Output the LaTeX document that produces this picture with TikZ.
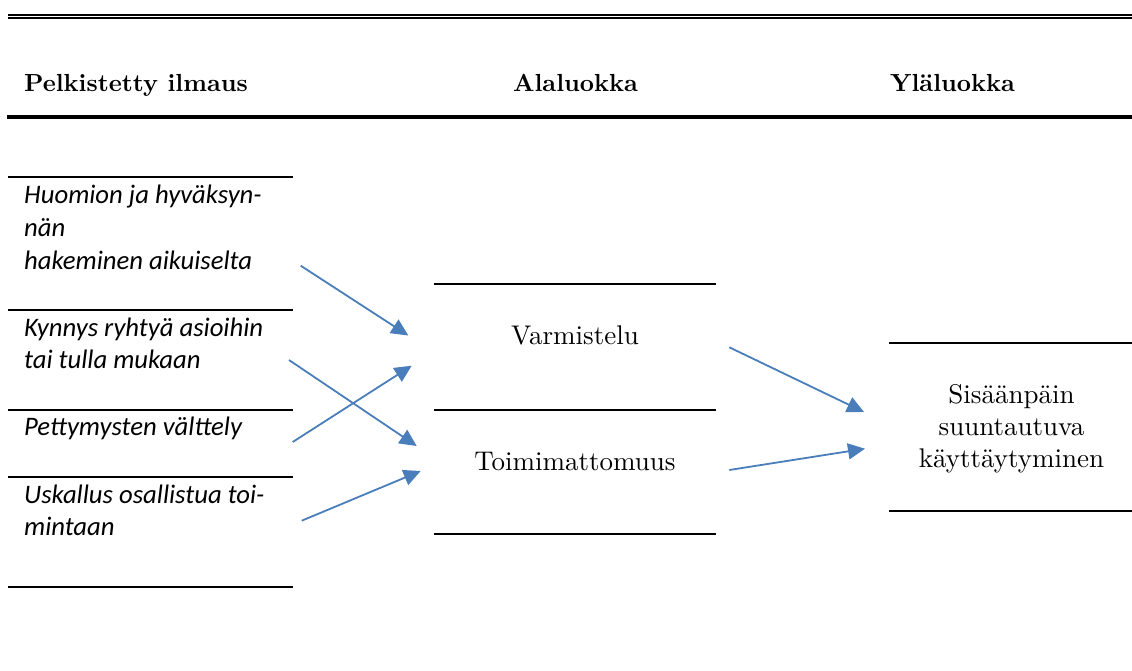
\documentclass[tikz,border=0pt]{standalone}
\usepackage{fontspec}
\newfontfamily\cali{Carlito}
\newfontfamily\romfont{lmroman10-regular}[Extension=.otf, BoldFont=lmroman10-bold]
\usetikzlibrary{arrows.meta}
\definecolor{arrowblue}{HTML}{4A7EBB}
\tikzset{
  rule/.style={line width=1.6pt},
  head/.style={font=\romfont\bfseries\fontsize{24.7}{28}\selectfont, inner sep=0pt, anchor=base},
  item/.style={font=\cali\itshape\fontsize{26.7}{32}\selectfont, inner sep=0pt, anchor=base west},
  cat/.style={font=\romfont\fontsize{27}{32}\selectfont, inner sep=0pt, anchor=base},
  link/.style={draw=arrowblue, line width=1.8pt, -{Triangle[length=17pt,width=16pt]}}
}
\begin{document}
\begin{tikzpicture}[x=1pt,y=-1pt]
\useasboundingbox (0,0) rectangle (1132,671);

% table frame
\draw[line width=2pt] (8,15) -- (1132,15);
\draw[line width=2pt] (8,18.4) -- (1132,18.4);
\draw[line width=3.5pt] (7,116.8) -- (1132,116.8);

% column headings
\node[head, anchor=base west] (h1) at (24,92) {Pelkistetty ilmaus};
\node[head] (h2) at (575.5,92) {Alaluokka};
\node[head] (h3) at (952.5,92) {Yläluokka};

% simplified expressions
\foreach \y in {177.3,310,410,476.7,586.7}
  \draw[rule] (8,\y) -- (292.7,\y);
\node[item] (e1a) at (24,204) {Huomion ja hyväksyn-};
\node[item] (e1b) at (24,236.5) {nän};
\node[item] (e1c) at (24,269) {hakeminen aikuiselta};
\node[item] (e2a) at (24,336) {Kynnys ryhtyä asioihin};
\node[item] (e2b) at (24,368.5) {tai tulla mukaan};
\node[item] (e3) at (24,435) {Pettymysten välttely};
\node[item] (e4a) at (24,503) {Uskallus osallistua toi-};
\node[item] (e4b) at (24,535.5) {mintaan};

% subcategories
\foreach \y in {284,410,534}
  \draw[rule] (434,\y) -- (715.7,\y);
\node[cat] (c1) at (575,344) {Varmistelu};
\node[cat] (c2) at (575,470) {Toimimattomuus};

% main category
\foreach \y in {342.7,510.7}
  \draw[rule] (889,\y) -- (1132,\y);
\node[cat] (m1) at (1011.5,403) {Sisäänpäin};
\node[cat] (m2) at (1011.5,435) {suuntautuva};
\node[cat] (m3) at (1011.5,467) {käyttäytyminen};

% connectors
\coordinate (s1) at (300.7,265.7);  \coordinate (t1) at (408.3,335.5);
\coordinate (s2) at (289,360);      \coordinate (t2) at (416.7,446);
\coordinate (s3) at (292.7,442);    \coordinate (t3) at (411.7,365.7);
\coordinate (s4) at (301.7,520.7);  \coordinate (t4) at (420.7,471);
\coordinate (s5) at (729.3,347.3);  \coordinate (t5) at (864,412);
\coordinate (s6) at (729.3,470);    \coordinate (t6) at (865,448.7);
\foreach \i in {1,...,6}
  \draw[link] (s\i) -- (t\i);
\end{tikzpicture}
\end{document}
